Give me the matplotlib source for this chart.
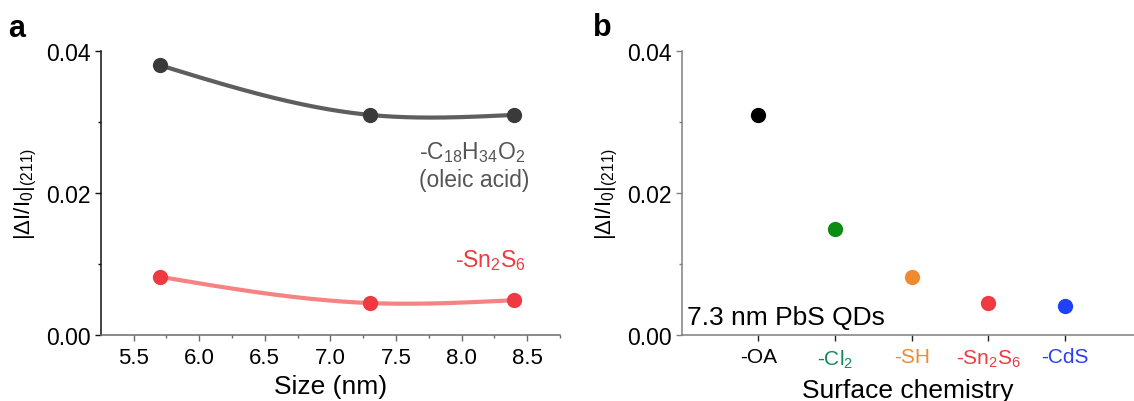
import numpy as np
import matplotlib
matplotlib.use("Agg")
import matplotlib.pyplot as plt
from matplotlib.ticker import FixedLocator

plt.rcParams['font.family'] = ['Liberation Sans', 'DejaVu Sans']
plt.rcParams['mathtext.fontset'] = 'custom'
plt.rcParams['mathtext.rm'] = 'Liberation Sans'
plt.rcParams['mathtext.it'] = 'Liberation Sans'
plt.rcParams['mathtext.bf'] = 'Liberation Sans:bold'

# ---- data ----
sizes_nm = [5.7, 7.3, 8.4]
oleic_acid = [0.0380, 0.0310, 0.0310]
sn2s6 = [0.0082, 0.0045, 0.0049]

surface_labels = ['-OA', '-Cl$_2$', '-SH', '-Sn$_2$S$_6$', '-CdS']
surface_values = [0.0310, 0.0150, 0.0081, 0.0045, 0.0041]
surface_colors = ['#000000', '#0b8c12', '#ef8a2e', '#ee3a40', '#2040fb']
surface_label_colors = ['#000000', '#11885a', '#ef8a2e', '#ee3a40', '#2b3ff5']


def natural_spline(x, y, n=200):
    x = np.asarray(x, float); y = np.asarray(y, float)
    k = len(x)
    h = np.diff(x)
    A = np.zeros((k, k)); b = np.zeros(k)
    A[0, 0] = 1; A[-1, -1] = 1
    for i in range(1, k - 1):
        A[i, i - 1] = h[i - 1]
        A[i, i] = 2 * (h[i - 1] + h[i])
        A[i, i + 1] = h[i]
        b[i] = 6 * ((y[i + 1] - y[i]) / h[i] - (y[i] - y[i - 1]) / h[i - 1])
    M = np.linalg.solve(A, b)
    xs = np.linspace(x[0], x[-1], n)
    ys = np.empty_like(xs)
    for j, xv in enumerate(xs):
        i = min(np.searchsorted(x, xv, side='right') - 1, k - 2)
        hi = h[i]
        a = x[i + 1] - xv; c = xv - x[i]
        ys[j] = (M[i] * a ** 3 / (6 * hi) + M[i + 1] * c ** 3 / (6 * hi)
                 + (y[i] / hi - M[i] * hi / 6) * a + (y[i + 1] / hi - M[i + 1] * hi / 6) * c)
    return xs, ys


fig = plt.figure(figsize=(11.34, 4.02), dpi=100)
W, H = 1134, 402
axa = fig.add_axes([100.7 / W, (H - 336) / H, (560 - 100.7) / W, (336 - 52) / H])
axb = fig.add_axes([681.7 / W, (H - 336) / H, (1134 - 681.7) / W, (336 - 52) / H])

# ---- panel a ----
xs, ys = natural_spline(sizes_nm, oleic_acid)
axa.plot(xs, ys, color='#555555', lw=3.0, alpha=0.95, solid_capstyle='round', zorder=2)
axa.plot(sizes_nm, oleic_acid, 'o', color='#3a3a3a', ms=11, mec='none', zorder=3)
xs, ys = natural_spline(sizes_nm, sn2s6)
axa.plot(xs, ys, color='#f58383', lw=3.0, solid_capstyle='round', zorder=2)
axa.plot(sizes_nm, sn2s6, 'o', color='#ee3a40', ms=11, mec='none', zorder=3)

axa.set_xlim(5.25, 8.75)
axa.set_ylim(0, 0.04)
axa.xaxis.set_major_locator(FixedLocator([5.5, 6.0, 6.5, 7.0, 7.5, 8.0, 8.5]))
axa.xaxis.set_minor_locator(FixedLocator([5.75, 6.25, 6.75, 7.25, 7.75, 8.25, 8.75]))
axa.yaxis.set_major_locator(FixedLocator([0.0, 0.02, 0.04]))
axa.yaxis.set_minor_locator(FixedLocator([0.01, 0.03]))
axa.set_xticklabels(['5.5', '6.0', '6.5', '7.0', '7.5', '8.0', '8.5'])
axa.set_yticklabels(['0.00', '0.02', '0.04'])
axa.set_xlabel('Size (nm)', fontsize=19, labelpad=4)
axa.set_ylabel('|ΔI/I$_0$|$_{(211)}$', fontsize=16, labelpad=5)

axa.text(7.674, 0.0249, '-C$_{18}$H$_{34}$O$_2$', fontsize=16.5, color='#555555', ha='left', va='baseline')
axa.text(7.674, 0.0210, '(oleic acid)', fontsize=16.5, color='#555555', ha='left', va='baseline')
axa.text(8.49, 0.0097, '-Sn$_2$S$_6$', fontsize=16.5, color='#ee3a40', ha='right', va='baseline')

# ---- panel b ----
pos = np.arange(1, len(surface_labels) + 1)
for p, v, c in zip(pos, surface_values, surface_colors):
    axb.plot(p, v, 'o', color=c, ms=11, mec='none', zorder=3)
axb.set_xlim(0, 5.9)
axb.set_ylim(0, 0.04)
axb.set_xticks(pos)
axb.set_xticklabels(surface_labels)
axb.yaxis.set_major_locator(FixedLocator([0.0, 0.02, 0.04]))
axb.yaxis.set_minor_locator(FixedLocator([0.01, 0.03]))
axb.set_yticklabels(['0.00', '0.02', '0.04'])
axb.set_xlabel('Surface chemistry', fontsize=19, labelpad=6)
axb.set_ylabel('|ΔI/I$_0$|$_{(211)}$', fontsize=16, labelpad=5)
axb.text(0.068, 0.0016, '7.3 nm PbS QDs', fontsize=19, color='black', ha='left', va='baseline')

for ax, lc, bc in [(axa, '#111111', '#6a6a6a'), (axb, '#808080', '#808080')]:
    ax.spines['top'].set_visible(False)
    ax.spines['right'].set_visible(False)
    ax.spines['left'].set_color(lc)
    ax.spines['bottom'].set_color(bc)
    ax.spines['left'].set_linewidth(1.1)
    ax.spines['bottom'].set_linewidth(1.1)
    ax.tick_params(axis='y', which='major', direction='out', length=4, width=1, color=lc, labelcolor='black', labelsize=16.5)
    ax.tick_params(axis='y', which='minor', direction='out', length=2.5, width=1, color=lc)
    ax.tick_params(axis='x', which='major', direction='out', length=4, width=1, color=bc, pad=5)
    ax.tick_params(axis='x', which='minor', direction='out', length=2.5, width=1, color=bc)
axa.tick_params(axis='x', which='major', labelcolor='black', labelsize=16)
axb.tick_params(axis='x', which='major', labelsize=15, color='#222222')
for lab, c in zip(axb.get_xticklabels(), surface_label_colors):
    lab.set_color(c)

fig.text(8 / W, 1 - 37 / H, 'a', fontsize=22, fontweight='bold', ha='left', va='baseline')
fig.text(593 / W, 1 - 36 / H, 'b', fontsize=22, fontweight='bold', ha='left', va='baseline')

fig.savefig('out.png', dpi=100)
